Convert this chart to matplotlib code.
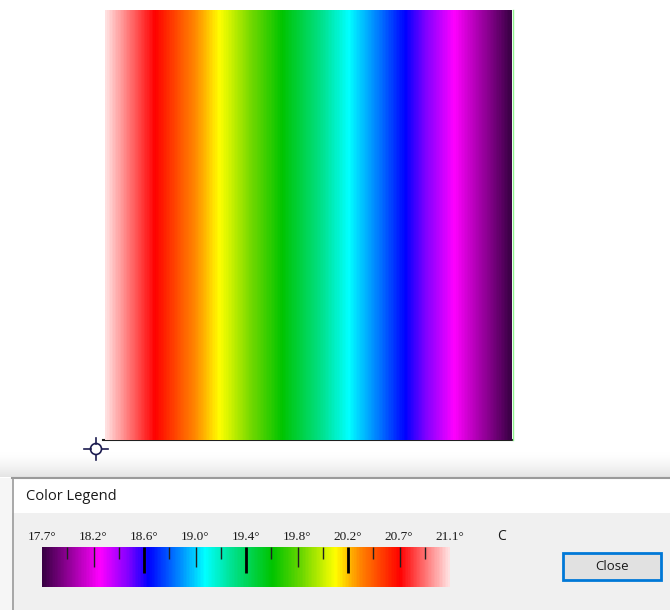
import matplotlib.pyplot as plt
import numpy as np
from matplotlib.colors import LinearSegmentedColormap
from matplotlib.patches import Rectangle, Circle

W, H = 670, 610

# temperature range of the field (deg C)
temp_min = 17.7
temp_max = 21.1
unit = "C"

# legend labels and tick marks
label_vals = [17.7, 18.125, 18.55, 18.975, 19.4, 19.825, 20.25, 20.675, 21.1]
label_text = ["17.7°", "18.2°", "18.6°", "19.0°", "19.4°", "19.8°", "20.2°", "20.7°", "21.1°"]
minor_ticks = [17.91, 18.34, 18.76, 19.19, 19.61, 20.04, 20.46, 20.89]
mid_ticks = [18.13, 18.98, 19.83, 20.68]
major_ticks = [18.55, 19.40, 20.25]

# colour stops of the legend (cold -> hot)
stop_pos = [0.0, 0.14, 0.21, 0.26, 0.40, 0.47, 0.565, 0.64, 0.72, 0.78, 0.88, 1.0]
stop_colors = ['#3a0044', '#ff00ff', '#8000ff', '#0000ff', '#00ffff', '#00e088',
               '#00c400', '#70d800', '#ffff00', '#ff8800', '#ff0000', '#ffe0e0']

cmap = LinearSegmentedColormap.from_list('temp', list(zip(stop_pos, stop_colors)))
band = LinearSegmentedColormap.from_list('band', ['#ffffff', '#e4e4e4'])

fig = plt.figure(figsize=(W / 100, H / 100), dpi=100)
fig.patch.set_facecolor('white')


def px_axes(x0, y0, x1, y1):
    return fig.add_axes([x0 / W, 1 - y1 / H, (x1 - x0) / W, (y1 - y0) / H])


# background in pixel coordinates
bg = px_axes(0, 0, W, H)
bg.axis('off')
bg.imshow(np.linspace(0, 1, 60)[:, None] ** 1.5, cmap=band, extent=(0, W, 477, 452),
          aspect='auto', origin='upper')
bg.add_patch(Rectangle((0, 478), 12, 132, color='#f6f6f6', lw=0))
bg.add_patch(Rectangle((12, 478), W - 12, 35, color='white', lw=0))
bg.add_patch(Rectangle((12, 513), W - 12, 97, color='#f0f0f0', lw=0))
bg.plot([12, W], [478, 478], color='#9a9a9a', lw=1.5)
bg.plot([12.5, 12.5], [478, H], color='#9a9a9a', lw=1.2)

# plot frame bits
bg.plot([103, 512], [440, 440], color='#202020', lw=1.5)
bg.plot([513, 513], [10, 440], color='#90f090', lw=1)

# origin marker
mk = '#1c1c50'
bg.add_patch(Circle((96, 449), 5.5, fill=False, ec=mk, lw=1.2))
bg.plot([96, 96], [438, 443.5], color=mk, lw=1.2)
bg.plot([96, 96], [454.5, 460], color=mk, lw=1.2)
bg.plot([84, 90.5], [449, 449], color=mk, lw=1.2)
bg.plot([101.5, 108], [449, 449], color=mk, lw=1.2)

bg.text(26, 497, "Color Legend", ha='left', va='center', fontsize=10.5,
        fontfamily='Open Sans', color='#1a1a1a')
bg.text(502, 537, unit, ha='center', va='center', fontsize=10,
        fontfamily='Open Sans', color='#1a1a1a')

# close button
bg.add_patch(Rectangle((563, 553), 98, 27, fc='#e1e1e1', ec='#0078d7', lw=2))
bg.text(612, 567, "Close", ha='center', va='center', fontsize=9.5,
        fontfamily='Open Sans', color='#1a1a1a')
bg.set_xlim(0, W)
bg.set_ylim(H, 0)

# temperature field (hot on the left, cold on the right)
field = np.tile(np.linspace(temp_max, temp_min, 400), (4, 1))
ax = px_axes(105, 10, 512, 440)
ax.imshow(field, cmap=cmap, vmin=temp_min, vmax=temp_max, aspect='auto')
ax.axis('off')

# colour legend bar
leg = px_axes(42, 547, 450, 587)
bar = np.linspace(temp_min, temp_max, 400)[None, :]
leg.imshow(bar, cmap=cmap, vmin=temp_min, vmax=temp_max, aspect='auto',
           extent=(temp_min, temp_max, 0, 1))
leg.vlines(minor_ticks, 0.7, 1, color='#202020', lw=1)
leg.vlines(mid_ticks, 0.5, 1, color='#202020', lw=1)
leg.vlines(major_ticks, 0.35, 1, color='black', lw=2)
leg.set_xlim(temp_min, temp_max)
leg.set_ylim(0, 1)
leg.axis('off')
for v, t in zip(label_vals, label_text):
    leg.text(v, 1.25, t, ha='center', va='center', fontsize=9.5,
             fontfamily='Liberation Serif', color='#1a1a1a', clip_on=False)

fig.savefig('out.png', dpi=100)
